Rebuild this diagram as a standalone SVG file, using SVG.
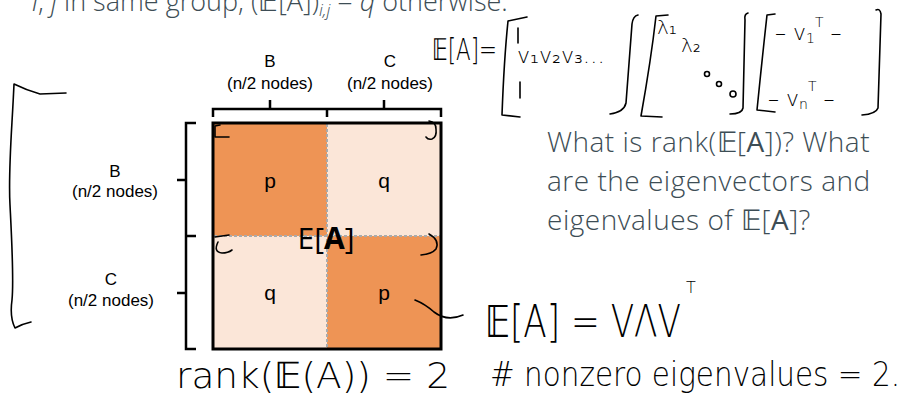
<svg xmlns="http://www.w3.org/2000/svg" width="903" height="394" viewBox="0 0 903 394">
<style>
.slide{font-family:"Open Sans","DejaVu Sans",sans-serif;font-weight:300;fill:#3d4d55}
.q{font-size:28px;letter-spacing:0.5px}
.lbl{font-family:"Liberation Sans",Arial,sans-serif;font-size:17px;fill:#000;text-anchor:middle}
.cell{font-family:"Liberation Sans",Arial,sans-serif;font-size:21px;fill:#000;text-anchor:middle}
.brace{fill:none;stroke:#000;stroke-width:2.5;stroke-linecap:butt;stroke-linejoin:miter}
.ink{fill:none;stroke:#000;stroke-width:1.6;stroke-linecap:round;stroke-linejoin:round}
.hw{font-family:"DejaVu Sans",sans-serif;font-weight:200;fill:#000}
.div{stroke:#aaaaaa;stroke-width:2;stroke-dasharray:3 2;fill:none}
</style>

<!-- slide text (clipped at the top edge, as in the reference) -->
<text class="slide" x="32" y="11" font-size="27"><tspan font-style="italic">i</tspan>, <tspan font-style="italic">j</tspan> in same group, (𝔼[A])<tspan font-size="17" dy="5" font-style="italic">i,j</tspan><tspan dy="-5"> = </tspan><tspan font-style="italic">q</tspan> otherwise.</text>

<g id="question">
<text class="slide q" x="547" y="152">What is rank(𝔼[<tspan font-weight="400">A</tspan>])? What</text>
<text class="slide q" x="547" y="191">are the eigenvectors and</text>
<text class="slide q" x="547" y="230">eigenvalues of 𝔼[<tspan font-weight="400">A</tspan>]?</text>
</g>

<!-- matrix -->
<g id="matrix">
<rect x="213" y="123" width="114" height="113" fill="#ee9455"/>
<rect x="327" y="123" width="114" height="113" fill="#fbe6d8"/>
<rect x="213" y="236" width="114" height="113" fill="#fbe6d8"/>
<rect x="327" y="236" width="114" height="113" fill="#ee9455"/>
<line class="div" x1="327" y1="124" x2="327" y2="348"/>
<line class="div" x1="214" y1="236" x2="440" y2="236"/>
<rect x="213" y="123" width="228" height="226" fill="none" stroke="#000" stroke-width="3"/>
<text class="cell" x="270" y="188">p</text>
<text class="cell" x="384" y="188">q</text>
<text class="cell" x="270" y="300">q</text>
<text class="cell" x="384" y="300">p</text>
<text x="326" y="249" font-family="'Open Sans','DejaVu Sans',sans-serif" font-size="30" fill="#000" text-anchor="middle">E[<tspan font-weight="700">A</tspan>]</text>
</g>

<g id="top-brace">
<path class="brace" d="M213,117 V109 H441 V117 M327,109 V117 M270,109 V100 M384,109 V100"/>
<text class="lbl" x="270" y="67">B</text>
<text class="lbl" x="270" y="89">(n/2 nodes)</text>
<text class="lbl" x="390" y="67">C</text>
<text class="lbl" x="390" y="89">(n/2 nodes)</text>
</g>

<g id="left-brace">
<path class="brace" d="M196,123 H186 V349 H196 M186,236 H196 M186,180 H177 M186,293 H177"/>
<text class="lbl" x="115" y="177">B</text>
<text class="lbl" x="115" y="197">(n/2 nodes)</text>
<text class="lbl" x="111" y="285">C</text>
<text class="lbl" x="111" y="306">(n/2 nodes)</text>
</g>

<!-- handwritten annotations -->
<g id="annotations">
<path class="ink" d="M66,93 L40,94 Q26,90 14,84 C12,130 8,170 10,205 C12,245 14,280 12,300 C10,314 12,322 15,328 Q22,324 31,322"/>
<path class="ink" d="M220,125 L215,126 L215,137 L229,137"/>
<path class="ink" d="M429,121 Q436,122 436,129 Q437,137 432,139 Q428,140 426,137"/>
<path class="ink" d="M215,237 L229,235 M218,242 Q213,252 222,253 Q228,253 232,250"/>
<path class="ink" d="M429,234 Q440,240 436,249 Q432,254 421,255"/>

<text class="hw" x="432" y="60" font-size="30" textLength="65" lengthAdjust="spacingAndGlyphs">𝔼[A]=</text>
<path class="ink" d="M527,17 L508,21 Q504,60 502,115 L520,117"/>
<path class="ink" d="M518,28 V43 M520,82 V98"/>
<text class="hw" x="517" y="63" font-size="22" textLength="88" lengthAdjust="spacingAndGlyphs">v₁v₂v₃…</text>
<path class="ink" d="M638,15 Q633,16 632,24 L626,103 Q624,112 610,114"/>
<path class="ink" d="M668,15 L656,16 Q651,60 641,116 L662,117"/>
<text class="hw" x="657" y="34" font-size="20">λ₁</text>
<text class="hw" x="681" y="52" font-size="20">λ₂</text>
<circle class="ink" cx="707" cy="74" r="2.5"/>
<circle class="ink" cx="719" cy="84" r="2.5"/>
<circle class="ink" cx="733" cy="94" r="3"/>
<path class="ink" d="M748,13 Q744,14 745,20 L743,108 Q742,114 730,114"/>
<path class="ink" d="M775,14 L767,15 Q762,60 757,110 L775,112"/>
<text class="hw" x="775" y="40" font-size="22">– v<tspan font-size="14" dy="3">1</tspan><tspan font-size="14" dy="-16">T</tspan><tspan dy="13"> –</tspan></text>
<text class="hw" x="768" y="106" font-size="22">– v<tspan font-size="14" dy="3">n</tspan><tspan font-size="14" dy="-18">T</tspan><tspan dy="15"> –</tspan></text>
<path class="ink" d="M876,10 Q880,8 881,14 L878,108 Q876,114 862,115"/>

<text class="hw" x="485" y="337" font-size="44" textLength="196" lengthAdjust="spacingAndGlyphs">𝔼[A] = VΛV</text>
<text class="hw" x="686" y="293" font-size="16">T</text>
<text class="hw" x="490" y="386" font-size="34" textLength="410" lengthAdjust="spacingAndGlyphs"># nonzero eigenvalues = 2.</text>
<text class="hw" x="176" y="388" font-size="36" textLength="274" lengthAdjust="spacingAndGlyphs">rank(𝔼(A)) = 2</text>
</g>

<g id="connectors">
<path class="ink" d="M415,300 Q425,304 434,312 Q447,322 463,315"/>
</g>
</svg>
